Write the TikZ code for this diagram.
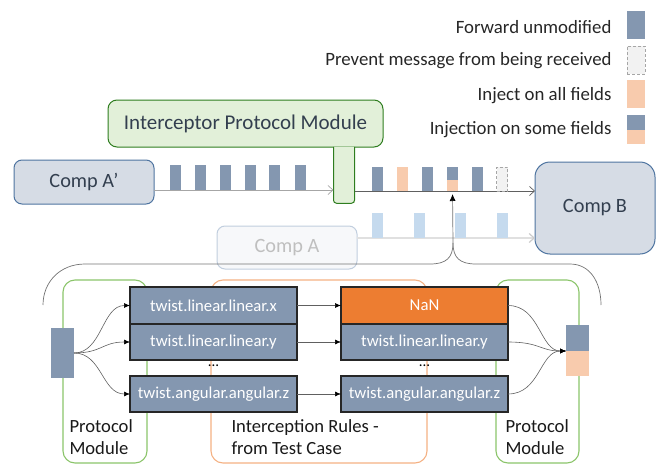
\documentclass[tikz,border=0pt]{standalone}
\usepackage{fontspec}
\setmainfont{Carlito}
\usetikzlibrary{arrows.meta,calc}
\definecolor{pktc}{HTML}{8497B0}
\definecolor{peach}{HTML}{F8CBAD}
\definecolor{dropc}{HTML}{F2F2F2}
\definecolor{ltblue}{HTML}{C5DAEE}
\definecolor{compfill}{HTML}{D6DCE5}
\definecolor{compedge}{HTML}{4E74A0}
\definecolor{ipmfill}{HTML}{E2F0D9}
\definecolor{ipmedge}{HTML}{2E7D1F}
\definecolor{pmedge}{HTML}{8BC46A}
\definecolor{iredge}{HTML}{F4B183}
\definecolor{nanc}{HTML}{ED7D31}
\definecolor{txt}{HTML}{333F4F}
\definecolor{lineg}{HTML}{606060}
\tikzset{
  bx/.style={rectangle, inner sep=0pt, outer sep=0pt},
  pkt/.style={bx, fill=pktc, minimum width=11, minimum height=25},
  pktpeach/.style={pkt, fill=peach},
  pktdrop/.style={pkt, fill=dropc, draw=gray!70, densely dashed, line width=0.6pt},
  pktlight/.style={pkt, fill=ltblue},
  legsq/.style={bx, minimum width=18, minimum height=28},
  legtxt/.style={anchor=east, font=\fontsize{18.8}{22}\selectfont, text=black!85},
  comp/.style={bx, rounded corners=8, draw=compedge, line width=1pt, fill=compfill,
    text=txt, font=\fontsize{20.3}{24}\selectfont},
  frame/.style={bx, rounded corners=12, line width=1.1pt, fill=none},
  field/.style={bx, minimum width=167, draw=black!85, line width=1.1pt, fill=pktc,
    text=white, font=\fontsize{16.7}{19}\selectfont},
  lbl/.style={anchor=west, align=left, font=\fontsize{18.6}{22}\selectfont, text=black!90},
  flow/.style={draw=lineg, line width=0.7pt, -{Straight Barb[length=5pt,width=9pt]}},
  flowlight/.style={draw=black!12, line width=1.2pt, -{Straight Barb[length=5pt,width=9pt,color=black!20]}},
  link/.style={draw=lineg, line width=0.6pt, -{Latex[length=6pt,width=5pt,color=black]}},
  brace/.style={draw=black!55, line width=0.7pt},
}
\begin{document}
\begin{tikzpicture}[x=1pt, y=-1pt]
\useasboundingbox (0,0) rectangle (657,466);

% legend
\node[legsq, fill=pktc] (lg1) at (636,25) {};
\node[legsq, fill=dropc, draw=gray!70, densely dashed, line width=0.6pt] (lg2) at (636,60) {};
\node[legsq, fill=peach] (lg3) at (636,94) {};
\node[legsq, fill=pktc, minimum height=15] (lg4a) at (636,122.5) {};
\node[legsq, fill=peach, minimum height=14] (lg4b) at (636,137) {};
\node[legtxt] (lt1) at (615,27) {Forward unmodified};
\node[legtxt] (lt2) at (615,61) {Prevent message from being received};
\node[legtxt] (lt3) at (615,96) {Inject on all fields};
\node[legtxt] (lt4) at (615,130) {Injection on some fields};

% interceptor protocol module
\node[bx, rounded corners=9, draw=ipmedge, line width=1pt, fill=ipmfill,
  minimum width=275, minimum height=47, text=txt, font=\fontsize{21}{25}\selectfont]
  (ipm) at (245.5,123.5) {Interceptor Protocol Module};
\node[bx, fill=ipmfill, minimum width=21, minimum height=56.5] (stem) at (344,175) {};
\draw[ipmedge, line width=1pt, rounded corners=3]
  (stem.north west) -- (stem.south west) -- (stem.south east) -- (stem.north east);

% components
\node[comp, minimum width=140, minimum height=44] (compAp) at (84,182) {Comp A’};
\node[comp, rounded corners=15, minimum width=120, minimum height=92] (compB) at (595,208) {Comp B};
\node[bx, rounded corners=8, draw=compedge!35, line width=1pt, fill=compfill!20,
  text=black!25, font=\fontsize{20.3}{24}\selectfont, minimum width=140, minimum height=43]
  (compA) at (287,247.5) {Comp A};

% flows
\coordinate (y1) at (0,190);
\coordinate (y2) at (0,191);
\coordinate (y3) at (0,238);
\draw[flow, draw=black!35] (compAp.east |- y1) -- (stem.west |- y1);
\draw[flow] (stem.east |- y2) -- (compB.west |- y2);
\draw[flowlight] (compA.east |- y3) -- (compB.west |- y3);

% packets left of interceptor
\foreach \x/\n in {175.5/a1,200/a2,225.5/a3,250/a4,274.5/a5,300/a6}
  \node[pkt] (\n) at (\x,177.5) {};
% packets after interceptor
\node[pkt, minimum height=24] (b1) at (377.5,179) {};
\node[pktpeach, minimum height=24] (b2) at (402.5,179) {};
\node[pkt, minimum height=24] (b3) at (427,179) {};
\node[pkt, minimum height=13] (b4a) at (452.5,173.5) {};
\node[pktpeach, minimum height=11] (b4b) at (452.5,185.5) {};
\node[pkt, minimum height=24] (b5) at (477,179) {};
\node[pktdrop, minimum height=24] (b6) at (502,179) {};
% faded packets from Comp A
\foreach \x/\n in {377.5/c1,419/c2,460.5/c3,502/c4}
  \node[pktlight] (\n) at (\x,225.5) {};

% frames
\node[frame, draw=pmedge, minimum width=84, minimum height=183] (pmL) at (105,371.5) {};
\node[frame, draw=iredge, minimum width=216, minimum height=183] (ir) at (319,371.5) {};
\node[frame, draw=pmedge, minimum width=83, minimum height=183] (pmR) at (537.5,371.5) {};
\node[lbl] (pmLt) at (66,437) {Protocol\\Module};
\node[lbl] (irt) at (228,437) {Interception Rules -\\from Test Case};
\node[lbl] (pmRt) at (502,437) {Protocol\\Module};

% brace
\coordinate (bt) at (453,243);
\draw[brace] (43,305) .. controls (43,282) and (60,264) .. (85,264) -- (430,264)
  .. controls (446,264) and (453,258) .. (bt);
\draw[brace] (bt) .. controls (453,258) and (460,264) .. (476,264) -- (570,264)
  .. controls (590,264) and (601,282) .. (601,305);
\draw[brace, -{Latex[length=7pt,width=6pt,color=black]}, shorten >=3pt] (bt) -- (b4b.south);

% field boxes
\node[field, minimum height=37] (f1) at (213.5,305.5) {twist.linear.linear.x};
\node[field, minimum height=36] (f2) at (213.5,342) {twist.linear.linear.y};
\node[field, minimum height=36] (f3) at (213.5,394) {twist.angular.angular.z};
\node[field, minimum height=37, fill=nanc] (g1) at (424.5,305.5) {NaN};
\node[field, minimum height=36] (g2) at (424.5,342) {twist.linear.linear.y};
\node[field, minimum height=36] (g3) at (424.5,394) {twist.angular.angular.z};
\node[font=\fontsize{15}{18}\selectfont] (d1) at (213.5,366) {...};
\node[font=\fontsize{15}{18}\selectfont] (d2) at (424.5,366) {...};

% message packets
\node[bx, fill=pktc, minimum width=23, minimum height=50] (lp) at (62.5,353) {};
\node[bx, fill=pktc, minimum width=23, minimum height=26] (rpa) at (577.5,338) {};
\node[bx, fill=peach, minimum width=23, minimum height=25] (rpb) at (577.5,363.5) {};

% links
\foreach \t in {f1,f2,f3}
  \draw[link] (lp.east) .. controls (102,353) and (102,0|-\t.west) .. (\t.west);
\draw[link] (f1.east) -- (g1.west);
\draw[link] (f2.east) -- (g2.west);
\draw[link] (f3.east) -- (g3.west);
\coordinate (rin) at (566,351);
\foreach \t in {g1,g2,g3}
  \draw[link] (\t.east) .. controls (540,0|-\t.east) and (540,351) .. (rin);
\end{tikzpicture}
\end{document}
